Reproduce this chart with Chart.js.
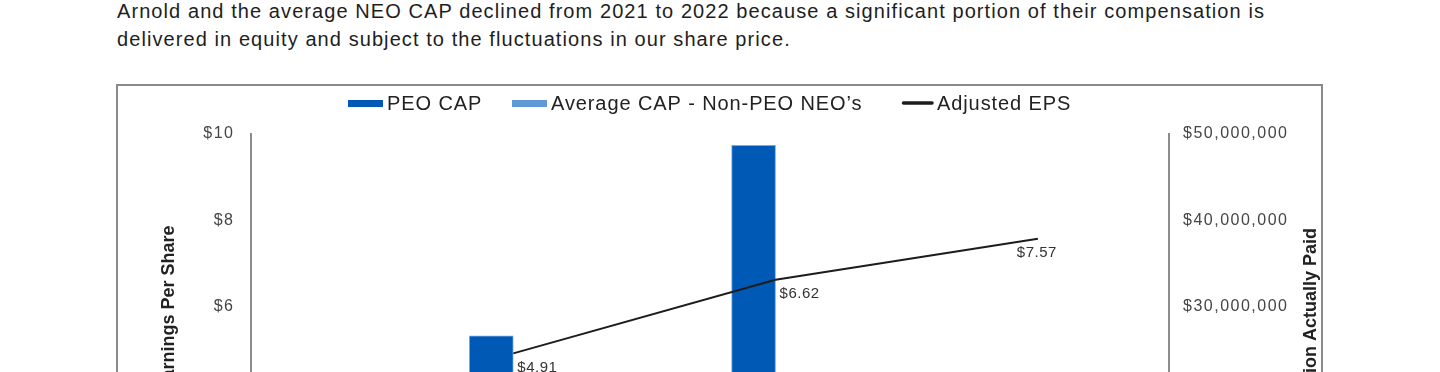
<!DOCTYPE html>
<html>
<head>
<meta charset="utf-8">
<script src="https://cdn.jsdelivr.net/npm/chart.js@4.4.1/dist/chart.umd.min.js"></script>
<style>
  html, body { margin:0; padding:0; overflow:hidden; background:#fff; width:1440px; height:372px; }
  #intro { position:absolute; left:117px; top:-3px; font:20px "Liberation Sans", Arial, sans-serif; line-height:28px; color:#1e1e1e; white-space:nowrap; }
  #frame { position:absolute; left:116px; top:84px; width:1203px; height:560px; border:2px solid #8a8a8a; }
  #wrap { position:absolute; left:0; top:0; width:1440px; height:660px; }
</style>
</head>
<body>
<div id="intro"><span id="l1">Arnold and the average NEO CAP declined from 2021 to 2022 because a significant portion of their compensation is</span><br><span id="l2">delivered in equity and subject to the fluctuations in our share price.</span></div>
<div id="frame"></div>
<div id="wrap"><canvas id="c" width="1440" height="660"></canvas></div>
<script>
// ---- data ----
const years = ['2020', '2021', '2022'];
const peoCap = [26600000, 48700000, 17000000];
const avgCap = [6500000, 11500000, 5200000];
const adjEps = [4.91, 6.62, 7.57];
const legendLabels = ['PEO CAP', 'Average CAP - Non-PEO NEO\u2019s', 'Adjusted EPS'];
const leftTitle = 'Adjusted Earnings Per Share';
const rightTitle = 'Compensation Actually Paid';

// fit header tracking
(function(){
  const l1 = document.getElementById('l1');
  const w = l1.getBoundingClientRect().width;
  const n = l1.textContent.length;
  document.getElementById('intro').style.letterSpacing = ((1148 - w) / n) + 'px';
})();

const FONT = '"Liberation Sans", Arial, sans-serif';
Chart.defaults.font.family = FONT;

const colors = { peo: '#005ab5', avg: '#5f9ad6', eps: '#1c1c1c' };

const overlay = {
  id: 'overlay',
  beforeLayout(chart) { chart.ctx.letterSpacing = '1.5px'; },
  beforeDraw(chart) { chart.ctx.letterSpacing = '1.5px'; },
  afterDraw(chart, args, opts) {
    const ctx = chart.ctx, a = chart.chartArea;
    ctx.save();
    ctx.letterSpacing = '0px';
    // axis titles (both read bottom-to-top)
    ctx.font = 'bold 18px ' + FONT;
    ctx.fillStyle = '#222';
    ctx.textAlign = 'center';
    ctx.textBaseline = 'alphabetic';
    const cy = (a.top + a.bottom) / 2;
    [[a.left - 77, leftTitle], [a.right + 147, rightTitle]].forEach(([x, t]) => {
      ctx.save(); ctx.translate(x, cy); ctx.rotate(-Math.PI / 2); ctx.fillText(t, 0, 0); ctx.restore();
    });
    // EPS data labels
    const meta = chart.getDatasetMeta(2);
    ctx.font = '15px ' + FONT;
    ctx.letterSpacing = '0.5px';
    ctx.fillStyle = '#333';
    ctx.textBaseline = 'middle';
    meta.data.forEach((pt, i) => {
      const txt = '$' + adjEps[i].toFixed(2);
      if (opts.labelPos[i] === 'below') { ctx.textAlign = 'center'; ctx.fillText(txt, pt.x - 1, pt.y + 14); }
      else { ctx.textAlign = 'left'; ctx.fillText(txt, pt.x + 4, pt.y + 14); }
    });
    // legend
    ctx.font = '20px ' + FONT;
    ctx.letterSpacing = '0.9px';
    ctx.fillStyle = '#222';
    ctx.textAlign = 'left';
    ctx.textBaseline = 'alphabetic';
    const ly = opts.legendY;
    legendLabels.forEach((lab, i) => {
      const x = opts.legendX[i];
      if (i < 2) {
        ctx.fillStyle = i === 0 ? colors.peo : colors.avg;
        ctx.fillRect(x, ly - 10, 35, 7);
        ctx.fillStyle = '#222';
        ctx.fillText(lab, x + 39, ly);
      } else {
        ctx.strokeStyle = colors.eps; ctx.lineWidth = 3.5; ctx.lineCap = 'round';
        ctx.beginPath(); ctx.moveTo(x + 1.5, ly - 7); ctx.lineTo(x + 30, ly - 7); ctx.stroke();
        ctx.fillText(lab, x + 35, ly);
      }
    });
    ctx.restore();
  }
};

const toPts = arr => arr.map((v, i) => ({ x: i, y: v }));

new Chart(document.getElementById('c'), {
  type: 'bar',
  data: {
    datasets: [
      { label: legendLabels[0], data: toPts(peoCap), yAxisID: 'y2', xAxisID: 'x', backgroundColor: colors.peo, borderColor: 'rgba(110,160,225,0.9)', borderWidth: 1, barThickness: 44, order: 2 },
      { label: legendLabels[1], data: toPts(avgCap), yAxisID: 'y2', xAxisID: 'x', backgroundColor: colors.avg, borderColor: 'rgba(150,190,235,0.9)', borderWidth: 1, barThickness: 44, order: 2 },
      { type: 'line', label: legendLabels[2], data: toPts(adjEps), yAxisID: 'y', xAxisID: 'x', borderColor: colors.eps, borderWidth: 2, pointRadius: 0, tension: 0, fill: false, order: 0 }
    ]
  },
  options: {
    responsive: false,
    maintainAspectRatio: false,
    animation: false,
    devicePixelRatio: 1,
    layout: { padding: { top: 134, left: 0, right: 0, bottom: 0 } },
    plugins: {
      legend: { display: false },
      tooltip: { enabled: false },
      overlay: { labelPos: ['right', 'right', 'below'], legendX: [348, 512, 902], legendY: 110 }
    },
    scales: {
      x: {
        type: 'linear', position: 'bottom', min: -1, max: 2.5, offset: false,
        grid: { display: false, drawTicks: false },
        border: { display: true, color: '#8c8c8c', width: 2 },
        ticks: { stepSize: 1, padding: 12, color: '#454545', font: { size: 16 },
          callback: v => (Number.isInteger(v) && years[v]) ? years[v] : '' },
        afterFit: s => { s.height = 95; }
      },
      y: {
        position: 'left', min: 0, max: 10,
        grid: { display: false, drawTicks: false },
        border: { display: true, color: '#8c8c8c', width: 2 },
        ticks: { stepSize: 2, padding: 16.5, color: '#454545', font: { size: 16 }, callback: v => '$' + v },
        afterFit: s => { s.width = 251; }
      },
      y2: {
        position: 'right', min: 0, max: 50000000,
        grid: { display: false, drawTicks: false },
        border: { display: true, color: '#8c8c8c', width: 2 },
        ticks: { stepSize: 10000000, padding: 14, color: '#454545', font: { size: 16 }, callback: v => '$' + v.toLocaleString('en-US') },
        afterFit: s => { s.width = 271; }
      }
    }
  },
  plugins: [overlay]
});
</script>
</body>
</html>
